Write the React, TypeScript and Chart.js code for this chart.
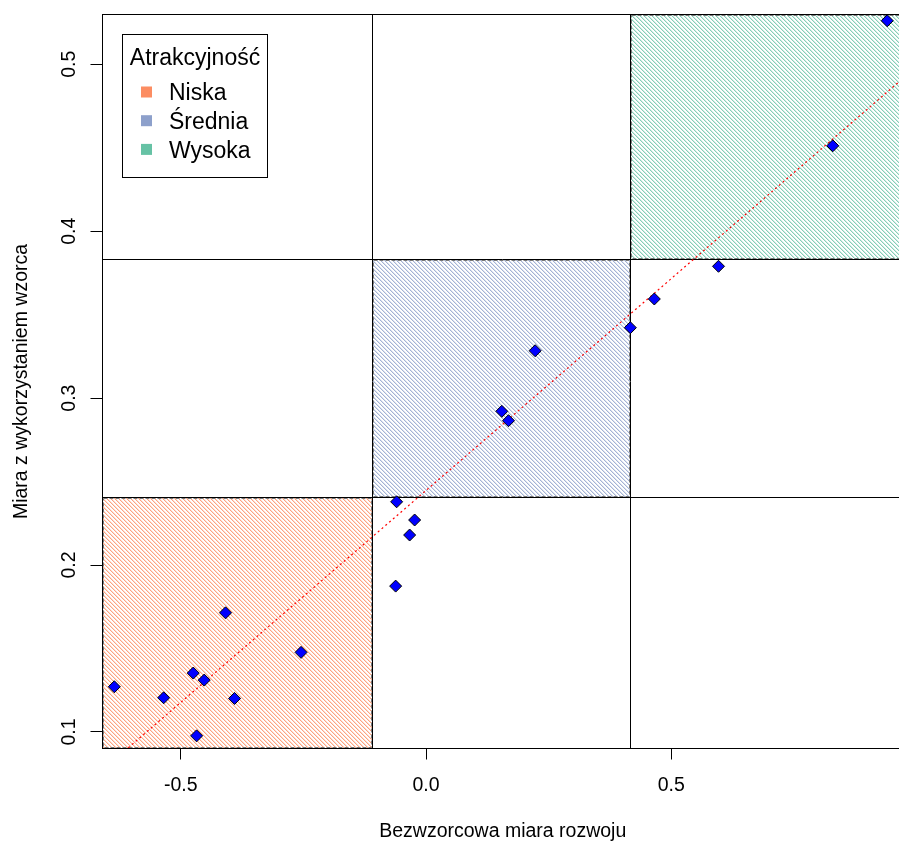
import React, { useEffect, useRef } from "react";
import { Chart, registerables } from "chart.js";

Chart.register(...registerables);

// ---- data ----
const pointsX = [-0.6356, -0.535, -0.4747, -0.4523, -0.4678, -0.4088, -0.3904, -0.2548, -0.0619, -0.0599, -0.0334, -0.0232, 0.1546, 0.1682, 0.2226, 0.4167, 0.4656, 0.5965, 0.8295, 0.9405];
const pointsY = [0.1271, 0.1205, 0.1353, 0.1311, 0.0977, 0.1714, 0.1201, 0.1477, 0.1874, 0.2379, 0.218, 0.227, 0.2921, 0.2865, 0.3284, 0.3422, 0.3594, 0.379, 0.4512, 0.5261];
const fitX = [-0.7, 1.0];
const fitY = [0.067, 0.4985];
const cutX = [-0.1094, 0.4167];
const cutY = [0.2407, 0.3833];
const classNames = ["Niska", "Średnia", "Wysoka"];
const classColors = ["#FC8D62", "#8DA0CB", "#66C2A5"];
const xTicks = [-0.5, 0, 0.5];
const xTickLabels = ["-0.5", "0.0", "0.5"];
const yTicks = [0.1, 0.2, 0.3, 0.4, 0.5];
const yTickLabels = ["0.1", "0.2", "0.3", "0.4", "0.5"];
const xTitle = "Bezwzorcowa miara rozwoju";
const yTitle = "Miara z wykorzystaniem wzorca";
const legendTitle = "Atrakcyjność";
const X_MIN = -0.6597;
const X_MAX = 0.9727;
const Y_MIN = 0.09011;
const Y_MAX = 0.52984;

const FONT = "'Liberation Sans', Arial, Helvetica, sans-serif";
const W = 910;
const H = 841;

function hexToRgb(hex: string) {
  const n = parseInt(hex.slice(1), 16);
  return [(n >> 16) & 255, (n >> 8) & 255, n & 255];
}

function makePattern(ctx: CanvasRenderingContext2D, color: string) {
  const size = 4;
  const c = document.createElement("canvas");
  c.width = size;
  c.height = size;
  const g = c.getContext("2d")!;
  const img = g.createImageData(size, size);
  const [r, gg, b] = hexToRgb(color);
  for (let y = 0; y < size; y++) {
    for (let x = 0; x < size; x++) {
      const i = (y * size + x) * 4;
      let a = 0;
      if (x === y) a = 0.8;
      else if (x === (y + 1) % size) a = 0.3;
      img.data[i] = Math.round(255 + (r - 255) * a);
      img.data[i + 1] = Math.round(255 + (gg - 255) * a);
      img.data[i + 2] = Math.round(255 + (b - 255) * a);
      img.data[i + 3] = 255;
    }
  }
  g.putImageData(img, 0, 0);
  return ctx.createPattern(c, "repeat")!;
}

const al = (v: number) => Math.floor(v) + 0.5;

const customPlugin = {
  id: "customDraw",
  beforeDatasetsDraw(chart: any) {
    const ctx: CanvasRenderingContext2D = chart.ctx;
    const xs = chart.scales.x;
    const ys = chart.scales.y;
    const ca = chart.chartArea;
    const px = (v: number) => xs.getPixelForValue(v);
    const py = (v: number) => ys.getPixelForValue(v);
    const regions = [
      [X_MIN, cutX[0], Y_MIN, cutY[0]],
      [cutX[0], cutX[1], cutY[0], cutY[1]],
      [cutX[1], X_MAX, cutY[1], Y_MAX],
    ];
    regions.forEach((r, i) => {
      const x0 = Math.round(px(r[0]));
      const x1 = Math.round(px(r[1]));
      const y0 = Math.round(py(r[3]));
      const y1 = Math.round(py(r[2]));
      ctx.save();
      ctx.fillStyle = makePattern(ctx, classColors[i]);
      ctx.fillRect(x0, y0, x1 - x0, y1 - y0);
      ctx.restore();
    });
    // solid reference lines
    ctx.save();
    ctx.strokeStyle = "#000";
    ctx.lineWidth = 1;
    ctx.beginPath();
    cutX.forEach((v) => {
      const x = al(px(v));
      ctx.moveTo(x, ca.top);
      ctx.lineTo(x, ca.bottom);
    });
    cutY.forEach((v) => {
      const y = al(py(v));
      ctx.moveTo(ca.left, y);
      ctx.lineTo(ca.right, y);
    });
    ctx.stroke();
    ctx.restore();
    // dashed region borders
    ctx.save();
    ctx.strokeStyle = "#777";
    ctx.lineWidth = 1;
    ctx.setLineDash([4, 2]);
    regions.forEach((r) => {
      const x0 = al(px(r[0])) + 1;
      const x1 = al(px(r[1])) - 1;
      const y0 = al(py(r[3])) + 1;
      const y1 = al(py(r[2])) - 1;
      ctx.strokeRect(x0, y0, x1 - x0, y1 - y0);
    });
    ctx.restore();
  },
  afterDatasetsDraw(chart: any) {
    const ctx: CanvasRenderingContext2D = chart.ctx;
    const ca = chart.chartArea;
    const xs = chart.scales.x;
    const ys = chart.scales.y;
    // box
    ctx.save();
    ctx.strokeStyle = "#000";
    ctx.lineWidth = 1;
    ctx.strokeRect(ca.left, ca.top, ca.right - ca.left, ca.bottom - ca.top);
    // legend
    const lx = 122.5, ly = 34.5, lw = 145, lh = 143;
    ctx.fillStyle = "#fff";
    ctx.fillRect(lx, ly, lw, lh);
    ctx.strokeStyle = "#000";
    ctx.strokeRect(lx, ly, lw, lh);
    ctx.fillStyle = "#000";
    ctx.font = `23px ${FONT}`;
    ctx.textAlign = "center";
    ctx.textBaseline = "alphabetic";
    ctx.fillText(legendTitle, lx + lw / 2, 65);
    ctx.textAlign = "left";
    classNames.forEach((n, i) => {
      const cy = 92 + i * 28.7;
      ctx.fillStyle = classColors[i];
      ctx.fillRect(141, cy - 5.5, 11, 11);
      ctx.fillStyle = "#000";
      ctx.fillText(n, 169, cy + 8.3);
    });
    // tick labels
    ctx.font = `19.5px ${FONT}`;
    ctx.textAlign = "center";
    ctx.textBaseline = "alphabetic";
    xTicks.forEach((v, i) => {
      ctx.fillText(xTickLabels[i], xs.getPixelForValue(v), 791);
    });
    yTicks.forEach((v, i) => {
      ctx.save();
      ctx.translate(75, ys.getPixelForValue(v));
      ctx.rotate(-Math.PI / 2);
      ctx.fillText(yTickLabels[i], 0, 0);
      ctx.restore();
    });
    // titles
    ctx.fillText(xTitle, (ca.left + ca.right) / 2, 837);
    ctx.save();
    ctx.translate(27, (ca.top + ca.bottom) / 2);
    ctx.rotate(-Math.PI / 2);
    ctx.fillText(yTitle, 0, 0);
    ctx.restore();
    ctx.restore();
  },
};

export default function App() {
  const ref = useRef<HTMLCanvasElement | null>(null);
  useEffect(() => {
    if (!ref.current) return;
    const chart = new Chart(ref.current, {
      type: "scatter",
      data: {
        datasets: [
          {
            type: "scatter",
            label: "points",
            data: pointsX.map((x, i) => ({ x, y: pointsY[i] })),
            pointStyle: "rectRot",
            pointRadius: 6,
            pointHoverRadius: 6,
            backgroundColor: "#0000FF",
            borderColor: "#000",
            borderWidth: 1,
            order: 0,
          },
          {
            type: "line",
            label: "fit",
            data: fitX.map((x, i) => ({ x, y: fitY[i] })),
            borderColor: "#FF0000",
            borderWidth: 1.2,
            borderDash: [2, 3],
            pointRadius: 0,
            fill: false,
            tension: 0,
            showLine: true,
            order: 1,
          } as any,
        ],
      },
      options: {
        responsive: false,
        animation: false,
        devicePixelRatio: 1,
        layout: { padding: { left: 0, top: 14.5, right: W - 904, bottom: 0 } },
        plugins: { legend: { display: false }, tooltip: { enabled: false } },
        events: [],
        scales: {
          x: {
            type: "linear",
            min: X_MIN,
            max: X_MAX,
            afterBuildTicks: (s: any) => {
              s.ticks = xTicks.map((v) => ({ value: v }));
            },
            afterFit: (s: any) => {
              s.height = 92.5;
            },
            ticks: { display: false },
            border: { display: false },
            grid: { drawOnChartArea: false, drawTicks: true, tickLength: 11, color: "#000", lineWidth: 1 },
          },
          y: {
            type: "linear",
            min: Y_MIN,
            max: Y_MAX,
            afterBuildTicks: (s: any) => {
              s.ticks = yTicks.map((v) => ({ value: v }));
            },
            afterFit: (s: any) => {
              s.width = 102.5;
            },
            ticks: { display: false },
            border: { display: false },
            grid: { drawOnChartArea: false, drawTicks: true, tickLength: 12, color: "#000", lineWidth: 1 },
          },
        },
      },
      plugins: [customPlugin],
    });
    return () => chart.destroy();
  }, []);
  return (
    <div style={{ position: "fixed", left: 0, top: 0, width: 899, height: 841, overflow: "hidden", background: "#fff" }}>
      <canvas ref={ref} width={W} height={H} style={{ width: W, height: H, display: "block" }} />
    </div>
  );
}
